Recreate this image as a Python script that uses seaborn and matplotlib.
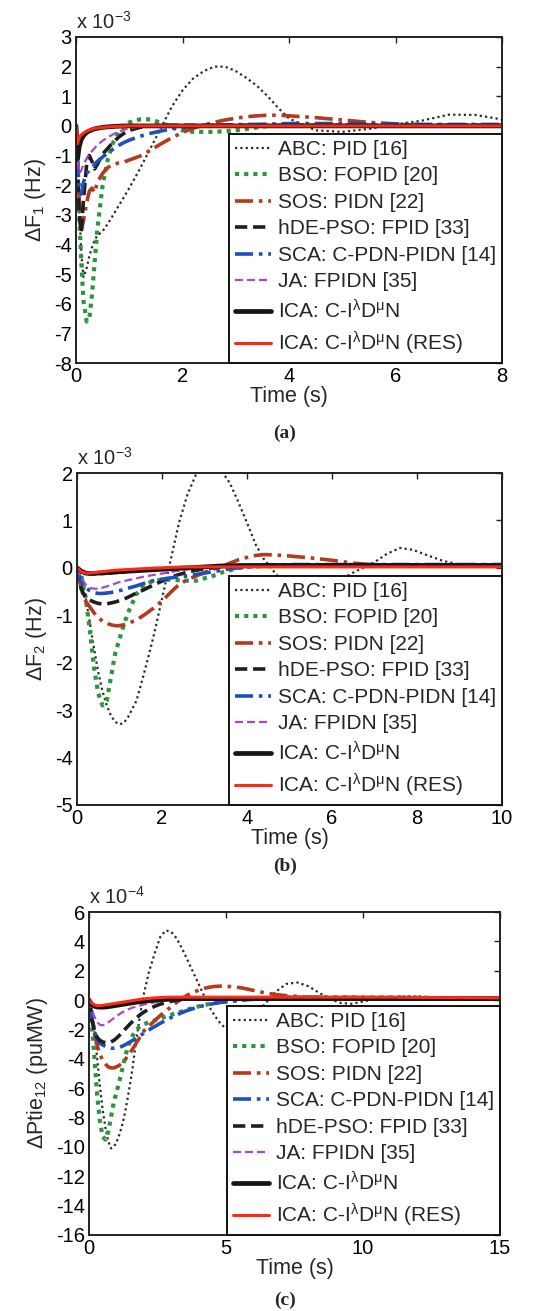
import matplotlib
matplotlib.use("Agg")
import matplotlib.pyplot as plt
import seaborn as sns
import pandas as pd

# ---- data (a: x1e-3 Hz, b: x1e-3 Hz, c: x1e-4 puMW) ----
t_a = [0, 0.03, 0.06, 0.1, 0.14,
       0.2, 0.25, 0.3, 0.35, 0.4,
       0.5, 0.6, 0.7, 0.8, 0.9,
       1.0, 1.2, 1.4, 1.6, 1.8,
       2.0, 2.2, 2.4, 2.6, 2.8,
       3.0, 3.2, 3.4, 3.6, 3.8,
       4.0, 4.5, 5.0, 5.5, 6.0,
       6.5, 7.0, 7.5, 8.0]
a_abc = [0, -1.2, -2.8, -4.3, -5.1,
         -4.8, -4.4, -4.1, -3.85, -3.7,
         -3.55, -3.3, -3.0, -2.7, -2.4,
         -2.1, -1.45, -0.75, -0.05, 0.65,
         1.2, 1.6, 1.85, 2.0, 2.0,
         1.85, 1.62, 1.35, 1.0, 0.6,
         0.25, -0.15, -0.2, -0.1, 0.05,
         0.18, 0.38, 0.37, 0.22]
a_bso = [0, -1.5, -3.0, -4.6, -5.9,
         -6.6, -6.5, -5.7, -4.6, -3.5,
         -2.0, -1.1, -0.55, -0.2, 0.0,
         0.12, 0.22, 0.22, 0.1, -0.05,
         -0.15, -0.2, -0.2, -0.2, -0.18,
         -0.15, -0.1, -0.05, 0.0, 0.02,
         0.02, 0.02, 0.02, 0.02, 0.02,
         0.02, 0.02, 0.02, 0.02]
a_sos = [0, -1.2, -2.5, -3.5, -3.2,
         -2.6, -2.2, -2.1, -2.25, -1.9,
         -1.6, -1.4, -1.3, -1.25, -1.22,
         -1.15, -1.02, -0.82, -0.6, -0.4,
         -0.22, -0.08, 0.03, 0.12, 0.2,
         0.26, 0.31, 0.34, 0.36, 0.36,
         0.34, 0.28, 0.2, 0.12, 0.07,
         0.04, 0.03, 0.03, 0.03]
a_hde = [0, -1.5, -3.0, -3.6, -2.5,
         -1.3, -1.0, -1.2, -1.45, -1.3,
         -0.95, -0.75, -0.55, -0.38, -0.25,
         -0.15, -0.05, 0.0, 0.02, 0.02,
         0.02, 0.02, 0.02, 0.02, 0.02,
         0.02, 0.02, 0.02, 0.02, 0.02,
         0.02, 0.02, 0.02, 0.02, 0.02,
         0.02, 0.02, 0.02, 0.02]
a_sca = [0, -1.2, -2.2, -2.3, -1.9,
         -1.6, -1.5, -1.4, -1.3, -1.2,
         -1.05, -0.9, -0.78, -0.66, -0.56,
         -0.48, -0.35, -0.25, -0.17, -0.1,
         -0.05, -0.02, 0.0, 0.02, 0.03,
         0.04, 0.05, 0.05, 0.06, 0.07,
         0.08, 0.08, 0.08, 0.07, 0.06,
         0.05, 0.05, 0.05, 0.05]
a_ja = [0, -1.0, -1.6, -1.5, -1.3,
        -1.1, -0.95, -0.85, -0.75, -0.65,
        -0.5, -0.38, -0.28, -0.2, -0.13,
        -0.08, -0.02, 0.0, 0.01, 0.01,
        0.01, 0.01, 0.01, 0.01, 0.01,
        0.01, 0.01, 0.01, 0.01, 0.01,
        0.01, 0.01, 0.01, 0.01, 0.01,
        0.01, 0.01, 0.01, 0.01]
a_ica = [0, -1.1, -0.7, -0.45, -0.33,
         -0.22, -0.17, -0.13, -0.1, -0.08,
         -0.05, -0.03, -0.02, -0.01, 0.0,
         0, 0, 0, 0, 0,
         0, 0, 0, 0, 0,
         0, 0, 0, 0, 0,
         0, 0, 0, 0, 0,
         0, 0, 0, 0]
a_res = [0, -0.6, -0.4, -0.3, -0.24,
         -0.18, -0.14, -0.11, -0.09, -0.07,
         -0.05, -0.035, -0.025, -0.015, -0.01,
         0, 0, 0, 0, 0,
         0, 0, 0, 0, 0,
         0, 0, 0, 0, 0,
         0, 0, 0, 0, 0,
         0, 0, 0, 0]

t_b = [0, 0.1, 0.2, 0.3, 0.4,
       0.5, 0.6, 0.7, 0.8, 0.9,
       1.0, 1.1, 1.2, 1.4, 1.6,
       1.8, 2.0, 2.2, 2.4, 2.6,
       2.8, 3.0, 3.2, 3.4, 3.6,
       3.8, 4.0, 4.2, 4.4, 4.7,
       5.0, 5.5, 6.0, 6.5, 7.0,
       7.3, 7.6, 7.9, 8.2, 8.6,
       9.0, 9.5, 10.0]
b_abc = [0, -0.2, -0.6, -1.15, -1.7,
         -2.2, -2.6, -2.9, -3.12, -3.25,
         -3.3, -3.27, -3.15, -2.8, -2.15,
         -1.45, -0.65, 0.15, 0.95, 1.55,
         1.97, 2.25, 2.3, 2.05, 1.78,
         1.38, 0.95, 0.5, 0.18, -0.15,
         -0.4, -0.5, -0.35, -0.1, 0.12,
         0.3, 0.42, 0.38, 0.28, 0.15,
         0.07, 0.05, 0.05]
b_bso = [0, -0.15, -0.6, -1.3, -2.1,
         -2.65, -2.9, -2.8, -2.3, -1.8,
         -1.5, -1.2, -0.95, -0.55, -0.35,
         -0.27, -0.25, -0.25, -0.26, -0.27,
         -0.27, -0.22, -0.17, -0.1, -0.05,
         0.0, 0.02, 0.03, 0.04, 0.05,
         0.05, 0.05, 0.05, 0.05, 0.05,
         0.05, 0.05, 0.05, 0.05, 0.05,
         0.05, 0.05, 0.05]
b_sos = [0, -0.45, -0.7, -0.82, -0.95,
         -1.05, -1.12, -1.17, -1.2, -1.22,
         -1.22, -1.2, -1.17, -1.1, -0.98,
         -0.85, -0.7, -0.52, -0.35, -0.25,
         -0.17, -0.1, -0.03, 0.03, 0.1,
         0.17, 0.22, 0.26, 0.28, 0.27,
         0.25, 0.21, 0.16, 0.1, 0.06,
         0.05, 0.05, 0.05, 0.05, 0.05,
         0.05, 0.05, 0.05]
b_hde = [0, -0.45, -0.62, -0.68, -0.72,
         -0.75, -0.76, -0.76, -0.74, -0.72,
         -0.69, -0.66, -0.62, -0.53, -0.45,
         -0.36, -0.28, -0.2, -0.14, -0.09,
         -0.05, -0.02, 0.0, 0.02, 0.03,
         0.04, 0.05, 0.05, 0.06, 0.06,
         0.06, 0.06, 0.06, 0.06, 0.06,
         0.06, 0.06, 0.06, 0.06, 0.06,
         0.06, 0.06, 0.06]
b_sca = [0, -0.3, -0.42, -0.48, -0.52,
         -0.54, -0.54, -0.53, -0.52, -0.5,
         -0.48, -0.46, -0.43, -0.38, -0.32,
         -0.27, -0.24, -0.21, -0.19, -0.17,
         -0.14, -0.11, -0.08, -0.05, -0.02,
         0.0, 0.02, 0.04, 0.05, 0.06,
         0.07, 0.07, 0.07, 0.07, 0.07,
         0.07, 0.07, 0.07, 0.07, 0.07,
         0.07, 0.07, 0.07]
b_ja = [0, -0.2, -0.35, -0.42, -0.44,
        -0.44, -0.42, -0.39, -0.36, -0.33,
        -0.3, -0.28, -0.26, -0.22, -0.18,
        -0.15, -0.12, -0.09, -0.06, -0.03,
        -0.01, 0.0, 0.01, 0.02, 0.03,
        0.03, 0.03, 0.03, 0.03, 0.03,
        0.03, 0.03, 0.03, 0.03, 0.03,
        0.03, 0.03, 0.03, 0.03, 0.03,
        0.03, 0.03, 0.03]
b_ica = [0, -0.07, -0.11, -0.12, -0.12,
         -0.11, -0.11, -0.1, -0.1, -0.09,
         -0.08, -0.08, -0.07, -0.06, -0.05,
         -0.04, -0.03, -0.02, -0.01, 0.0,
         0.01, 0.02, 0.03, 0.04, 0.04,
         0.05, 0.05, 0.05, 0.05, 0.05,
         0.05, 0.05, 0.05, 0.05, 0.05,
         0.05, 0.05, 0.05, 0.05, 0.05,
         0.05, 0.05, 0.05]
b_res = [0, -0.08, -0.11, -0.11, -0.1,
         -0.09, -0.08, -0.07, -0.06, -0.05,
         -0.045, -0.04, -0.035, -0.025, -0.015,
         -0.005, 0.0, 0.01, 0.015, 0.02,
         0.02, 0.02, 0.02, 0.02, 0.02,
         0.02, 0.02, 0.02, 0.02, 0.02,
         0.02, 0.02, 0.02, 0.02, 0.02,
         0.02, 0.02, 0.02, 0.02, 0.02,
         0.02, 0.02, 0.02]

t_c = [0, 0.1, 0.2, 0.3, 0.4,
       0.5, 0.6, 0.7, 0.8, 0.9,
       1.0, 1.1, 1.2, 1.3, 1.4,
       1.5, 1.6, 1.7, 1.8, 1.9,
       2.0, 2.2, 2.4, 2.6, 2.8,
       3.0, 3.2, 3.4, 3.6, 3.8,
       4.0, 4.2, 4.4, 4.6, 4.8,
       5.0, 5.3, 5.6, 6.0, 6.4,
       6.8, 7.2, 7.6, 8.0, 8.4,
       8.8, 9.2, 9.6, 10.0, 10.5,
       11.0, 11.5, 12.0, 13.0, 14.0,
       15.0]
c_abc = [0, -0.5, -2.0, -4.0, -5.9,
         -7.5, -8.7, -9.6, -10.1, -10.0,
         -9.7, -9.2, -8.6, -7.8, -6.8,
         -5.7, -4.5, -3.0, -1.8, -0.6,
         0.4, 2.0, 3.2, 4.3, 4.75,
         4.65, 4.2, 3.5, 2.7, 1.9,
         1.1, 0.3, -0.5, -1.1, -1.6,
         -1.95, -2.15, -2.0, -1.3, -0.3,
         0.55, 1.1, 1.2, 0.95, 0.5,
         0.05, -0.2, -0.25, -0.1, 0.1,
         0.2, 0.25, 0.25, 0.15, 0.1,
         0.08]
c_bso = [0, -1.5, -4.0, -6.5, -8.3,
         -9.3, -9.5, -9.0, -8.0, -7.0,
         -6.3, -5.6, -4.8, -4.0, -3.3,
         -2.8, -2.4, -2.1, -1.9, -1.75,
         -1.65, -1.5, -1.38, -1.25, -1.12,
         -1.0, -0.88, -0.76, -0.64, -0.53,
         -0.43, -0.34, -0.26, -0.2, -0.14,
         -0.09, -0.03, 0.02, 0.08, 0.12,
         0.15, 0.17, 0.18, 0.18, 0.18,
         0.18, 0.18, 0.18, 0.18, 0.18,
         0.18, 0.18, 0.16, 0.12, 0.1,
         0.1]
c_sos = [0, -1.0, -2.3, -3.1, -3.7,
         -4.1, -4.35, -4.55, -4.62, -4.62,
         -4.55, -4.45, -4.3, -4.1, -3.85,
         -3.6, -3.3, -3.0, -2.7, -2.4,
         -2.1, -1.75, -1.4, -1.05, -0.75,
         -0.45, -0.15, 0.12, 0.35, 0.52,
         0.68, 0.8, 0.88, 0.93, 0.95,
         0.94, 0.9, 0.82, 0.66, 0.5,
         0.38, 0.3, 0.25, 0.2, 0.17,
         0.15, 0.14, 0.13, 0.12, 0.12,
         0.12, 0.12, 0.12, 0.11, 0.1,
         0.1]
c_sca = [0, -1.0, -2.1, -2.7, -2.95,
         -3.05, -3.15, -3.22, -3.27, -3.28,
         -3.27, -3.22, -3.15, -3.06, -2.96,
         -2.85, -2.74, -2.62, -2.5, -2.38,
         -2.26, -2.02, -1.8, -1.58, -1.38,
         -1.18, -1.0, -0.85, -0.7, -0.58,
         -0.47, -0.37, -0.29, -0.22, -0.16,
         -0.11, -0.05, 0.0, 0.06, 0.1,
         0.14, 0.17, 0.18, 0.18, 0.18,
         0.18, 0.18, 0.17, 0.17, 0.16,
         0.16, 0.15, 0.15, 0.12, 0.1,
         0.1]
c_hde = [0, -1.3, -2.1, -2.55, -2.75,
         -2.85, -2.9, -2.9, -2.85, -2.75,
         -2.6, -2.42, -2.22, -2.02, -1.82,
         -1.62, -1.44, -1.27, -1.1, -0.95,
         -0.82, -0.6, -0.42, -0.28, -0.17,
         -0.08, 0.0, 0.05, 0.08, 0.1,
         0.11, 0.12, 0.12, 0.12, 0.12,
         0.12, 0.12, 0.12, 0.12, 0.12,
         0.12, 0.12, 0.12, 0.12, 0.12,
         0.12, 0.12, 0.12, 0.12, 0.12,
         0.12, 0.12, 0.12, 0.12, 0.12,
         0.1]
c_ja = [0, -0.6, -1.15, -1.5, -1.68,
        -1.72, -1.65, -1.52, -1.38, -1.24,
        -1.1, -0.97, -0.85, -0.75, -0.66,
        -0.58, -0.51, -0.45, -0.4, -0.35,
        -0.3, -0.22, -0.15, -0.1, -0.05,
        -0.02, 0.0, 0.02, 0.04, 0.05,
        0.06, 0.06, 0.06, 0.06, 0.06,
        0.06, 0.06, 0.06, 0.06, 0.06,
        0.06, 0.06, 0.06, 0.06, 0.06,
        0.06, 0.06, 0.06, 0.06, 0.06,
        0.06, 0.06, 0.06, 0.06, 0.06,
        0.06]
c_ica = [0, -0.3, -0.42, -0.47, -0.48,
         -0.48, -0.47, -0.45, -0.42, -0.39,
         -0.36, -0.33, -0.3, -0.27, -0.24,
         -0.21, -0.18, -0.15, -0.12, -0.1,
         -0.08, -0.04, 0.0, 0.03, 0.06,
         0.08, 0.09, 0.1, 0.1, 0.1,
         0.1, 0.1, 0.1, 0.1, 0.1,
         0.1, 0.1, 0.1, 0.1, 0.1,
         0.1, 0.1, 0.1, 0.1, 0.1,
         0.1, 0.1, 0.1, 0.1, 0.1,
         0.1, 0.1, 0.1, 0.1, 0.1,
         0.1]
c_res = [0, -0.2, -0.33, -0.38, -0.38,
         -0.36, -0.33, -0.3, -0.27, -0.24,
         -0.21, -0.18, -0.15, -0.12, -0.09,
         -0.06, -0.03, 0.0, 0.03, 0.06,
         0.08, 0.12, 0.15, 0.17, 0.19,
         0.2, 0.2, 0.2, 0.2, 0.2,
         0.2, 0.2, 0.2, 0.2, 0.2,
         0.2, 0.2, 0.2, 0.2, 0.2,
         0.2, 0.2, 0.2, 0.2, 0.2,
         0.2, 0.2, 0.2, 0.2, 0.2,
         0.2, 0.19, 0.18, 0.17, 0.16,
         0.15]

labels = {
    'abc': 'ABC: PID [16]',
    'bso': 'BSO: FOPID [20]',
    'sos': 'SOS: PIDN [22]',
    'hde': 'hDE-PSO: FPID [33]',
    'sca': 'SCA: C-PDN-PIDN [14]',
    'ja': 'JA: FPIDN [35]',
    'ica': r'ICA: C-I$^{\lambda}$D$^{\mu}$N',
    'res': r'ICA: C-I$^{\lambda}$D$^{\mu}$N (RES)',
}
styles = {
    'abc': dict(color='#2b2b2b', linestyle=(0, (1, 1.4)), lw=1.6),
    'bso': dict(color='#2f9440', linestyle=(0, (1, 1.2)), lw=3.0),
    'sos': dict(color='#b5391c', linestyle=(0, (5, 1.6, 1, 1.6)), lw=2.6),
    'hde': dict(color='#1e1e1e', linestyle=(0, (3.4, 1.6)), lw=2.6),
    'sca': dict(color='#1f4fb8', linestyle=(0, (5, 1.6, 1, 1.6)), lw=2.6),
    'ja': dict(color='#a64ac4', linestyle=(0, (3.6, 1.8)), lw=1.6),
    'ica': dict(color='#151515', linestyle='-', lw=3.4),
    'res': dict(color='#ff2a16', linestyle='-', lw=2.2),
}

panels = [
    dict(t=t_a, ys=dict(abc=a_abc, bso=a_bso, sos=a_sos, hde=a_hde, sca=a_sca, ja=a_ja, ica=a_ica, res=a_res),
         order=['abc', 'bso', 'sos', 'hde', 'sca', 'ja', 'ica', 'res'],
         rect=[76, 37, 502, 363], xlim=(0, 8), xticks=[0, 2, 4, 6, 8],
         ylim=(-8, 3), yticks=list(range(-8, 4)), ylabel='ΔF$_1$ (Hz)', exp='-3',
         cap='(a)', cap_y=433),
    dict(t=t_b, ys=dict(abc=b_abc, bso=b_bso, sos=b_sos, hde=b_hde, sca=b_sca, ja=b_ja, ica=b_ica, res=b_res),
         order=['abc', 'bso', 'sos', 'hde', 'sca', 'ja', 'ica', 'res'],
         rect=[77, 473, 502, 805], xlim=(0, 10), xticks=[0, 2, 4, 6, 8, 10],
         ylim=(-5, 2), yticks=list(range(-5, 3)), ylabel='ΔF$_2$ (Hz)', exp='-3',
         cap='(b)', cap_y=866),
    dict(t=t_c, ys=dict(abc=c_abc, bso=c_bso, sos=c_sos, hde=c_hde, sca=c_sca, ja=c_ja, ica=c_ica, res=c_res),
         order=['abc', 'bso', 'sos', 'sca', 'hde', 'ja', 'ica', 'res'],
         rect=[89, 912, 500, 1235], xlim=(0, 15), xticks=[0, 5, 10, 15],
         ylim=(-16, 6), yticks=list(range(-16, 7, 2)), ylabel='ΔPtie$_{12}$ (puMW)', exp='-4',
         cap='(c)', cap_y=1300),
]

sns.set_theme(style='white')
plt.rcParams['font.family'] = ['Liberation Sans', 'DejaVu Sans']
plt.rcParams['mathtext.fontset'] = 'custom'
plt.rcParams['mathtext.rm'] = 'Liberation Sans'
plt.rcParams['mathtext.it'] = 'Liberation Sans:italic'
plt.rcParams['mathtext.default'] = 'regular'
plt.rcParams['axes.unicode_minus'] = False

W, H = 533, 1311
fig = plt.figure(figsize=(W / 100, H / 100), dpi=100)

for p in panels:
    l, top, r, bot = p['rect']
    ax = fig.add_axes([l / W, 1 - bot / H, (r - l) / W, (bot - top) / H])
    rows = []
    for key in p['order']:
        for tt, yy in zip(p['t'], p['ys'][key]):
            rows.append((tt, yy, key))
    df = pd.DataFrame(rows, columns=['time', 'value', 'method'])
    for key in p['order']:
        sns.lineplot(data=df[df['method'] == key], x='time', y='value', ax=ax,
                     estimator=None, sort=False, label=labels[key], **styles[key])
    ax.set_xlim(*p['xlim'])
    ax.set_ylim(*p['ylim'])
    ax.set_xticks(p['xticks'])
    ax.set_yticks(p['yticks'])
    ax.tick_params(direction='in', top=True, right=True, length=4, width=1,
                   labelsize=14.5, colors='#222222', labelcolor='black', pad=3)
    for s in ax.spines.values():
        s.set_color('#222222')
        s.set_linewidth(1.4)
    ax.set_xlabel('Time (s)', fontsize=15.5, labelpad=0)
    ax.set_ylabel(p['ylabel'], fontsize=15.5, labelpad=4)
    ax.text(0.0, 1.012, 'x 10$^{' + p['exp'] + '}$', transform=ax.transAxes,
            fontsize=14.5, ha='left', va='bottom')
    leg = ax.legend(loc='lower right', bbox_to_anchor=(1, 0), borderaxespad=0,
                    fontsize=15, frameon=True, fancybox=False, framealpha=1,
                    edgecolor='#111111', handlelength=1.75, handletextpad=0.3,
                    labelspacing=0.36, borderpad=0.3)
    leg.get_frame().set_linewidth(1.4)
    fig.text(285 / W, 1 - p['cap_y'] / H, p['cap'], ha='center', va='center',
             fontsize=14, fontweight='bold', family='Liberation Serif')

fig.savefig('out.png', dpi=100)
